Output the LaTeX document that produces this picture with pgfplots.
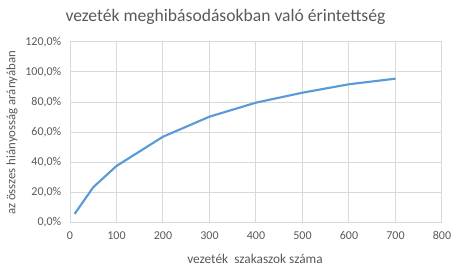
\documentclass[border=0pt]{standalone}
\usepackage{pgfplots}
\pgfplotsset{compat=1.18}
\usepackage{fontspec}
\setmainfont{Carlito}
\definecolor{txt}{RGB}{89,89,89}
\definecolor{gridc}{RGB}{217,217,217}
\definecolor{line}{RGB}{91,155,213}
\begin{document}
\begin{tikzpicture}
\useasboundingbox (-52.5pt,-38.5pt) rectangle (290.25pt,167pt);
\begin{axis}[
  at={(0,0)}, anchor=south west,
  scale only axis, width=279pt, height=135.7pt,
  xmin=0, xmax=800, ymin=0, ymax=1.2,
  xtick={0,100,...,800},
  ytick={0,0.2,0.4,0.6,0.8,1.0,1.2},
  yticklabels={{0,0\%},{20,0\%},{40,0\%},{60,0\%},{80,0\%},{100,0\%},{120,0\%}},
  /pgf/number format/assume math mode=true,
  xticklabel style={font=\fontsize{9}{10}\selectfont, text=txt, yshift=-3pt},
  yticklabel style={font=\fontsize{9}{10}\selectfont, text=txt, xshift=-3pt},
  major tick length=0pt,
  grid=major,
  major grid style={gridc, line width=0.75pt},
  axis line style={gridc, line width=0.75pt},
  axis lines=box,
  clip=false,
]
\addplot[line, line width=1.6pt, mark=none] coordinates {
  (10,0.058) (50,0.235) (100,0.376) (200,0.570) (300,0.703) (400,0.796) (500,0.862) (600,0.918) (700,0.955)
};
\end{axis}
\node[text=txt, font=\fontsize{13.2}{15}\selectfont] at (116.6pt,154.25pt) {vezeték meghibásodásokban való érintettség};
\node[text=txt, font=\fontsize{10}{12}\selectfont] at (138.75pt,-27.25pt) {vezeték\ \ szakaszok száma};
\node[text=txt, font=\fontsize{9.6}{12}\selectfont, rotate=90] at (-43.5pt,67.25pt) {az összes hiányosság arányában};
\end{tikzpicture}
\end{document}
